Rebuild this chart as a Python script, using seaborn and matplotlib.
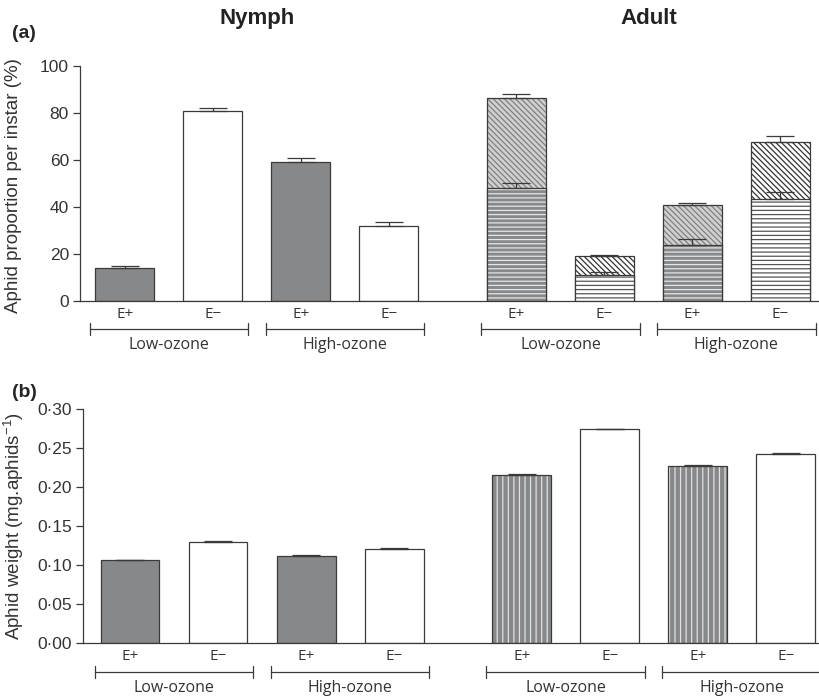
import numpy as np
import matplotlib
matplotlib.use("Agg")
import matplotlib.pyplot as plt
import seaborn as sns
from matplotlib.ticker import FuncFormatter

# ------------------------------------------------------------
# data
# ------------------------------------------------------------
groups = ["Low-ozone", "High-ozone"]
endo_labels = ["E+", "E\u2212", "E+", "E\u2212"]
stages = ["Nymph", "Adult"]

# (a) aphid proportion per instar (%)
nymph_prop = [13.9, 80.9, 59.0, 32.0]
nymph_prop_err = [1.1, 1.4, 1.7, 1.8]
adult_prop_total = [86.4, 19.1, 40.9, 67.8]
adult_prop_total_err = [1.6, 0.6, 0.9, 2.5]
adult_prop_lower = [48.0, 10.9, 23.8, 43.4]
adult_prop_lower_err = [2.1, 1.5, 2.4, 3.1]

# (b) aphid weight (mg per aphid)
nymph_weight = [0.106, 0.130, 0.112, 0.121]
nymph_weight_err = [0.001, 0.001, 0.001, 0.001]
adult_weight = [0.216, 0.274, 0.227, 0.242]
adult_weight_err = [0.001, 0.001, 0.001, 0.002]

# ------------------------------------------------------------
# style
# ------------------------------------------------------------
sns.set_style("ticks")
plt.rcParams["font.family"] = ["Liberation Sans", "DejaVu Sans"]
plt.rcParams["mathtext.fontset"] = "custom"
plt.rcParams["mathtext.rm"] = "Liberation Sans"
plt.rcParams["mathtext.default"] = "regular"
plt.rcParams["hatch.linewidth"] = 0.9

EDGE = "#3a3a3a"
DARK = "#87888a"
LIGHT = "#d0d0d0"
BAR_W = 0.67
XFONT = ["Open Sans", "DejaVu Sans"]

nymph_x = np.arange(4, dtype=float)
adult_x = nymph_x + 4.45
all_x = np.concatenate([nymph_x, adult_x])


def draw_bars(ax, x, y, faces, hatches=None, hcols=None):
    n0 = len(ax.patches)
    sns.barplot(x=x, y=y, native_scale=True, width=BAR_W, color="white",
                errorbar=None, linewidth=0, ax=ax)
    for i, p in enumerate(ax.patches[n0:]):
        p.set_facecolor(faces[i])
        if hatches is not None and hatches[i]:
            p.set_hatch(hatches[i])
            p.set_edgecolor(hcols[i])
        else:
            p.set_edgecolor("none")
        p.set_linewidth(0)
    # outline on top
    sns.barplot(x=x, y=y, native_scale=True, width=BAR_W, fill=False,
                color=EDGE, errorbar=None, linewidth=0.9, ax=ax)


def draw_err(ax, x, y, err):
    ax.errorbar(x, y, yerr=[np.zeros(len(err)), err], fmt="none",
                ecolor=EDGE, elinewidth=0.9, capsize=10, capthick=0.9, zorder=4)


def decorate(ax, tick_y, bracket_y, label_y):
    sns.despine(ax=ax)
    for s in ["left", "bottom"]:
        ax.spines[s].set_color(EDGE)
        ax.spines[s].set_linewidth(0.9)
    ax.set_xticks(all_x)
    ax.set_xticklabels(endo_labels * 2, fontfamily=XFONT, fontsize=11, color="#333333")
    ax.tick_params(axis="x", length=0, pad=tick_y)
    ax.tick_params(axis="y", length=5, width=0.9, color=EDGE, labelsize=12.5,
                   labelcolor="#333333", pad=3)
    trans = ax.get_xaxis_transform()
    for xs in [nymph_x, adult_x]:
        for g, grp in enumerate(groups):
            c = xs[2 * g] + 0.5
            ax.plot([c - 0.9, c + 0.9], [bracket_y, bracket_y], color=EDGE, lw=0.9,
                    transform=trans, clip_on=False)
            for e in [c - 0.9, c + 0.9]:
                ax.plot([e, e], [bracket_y - 0.025, bracket_y + 0.025], color=EDGE,
                        lw=0.9, transform=trans, clip_on=False)
            ax.text(c, label_y, grp, ha="center", va="center", fontfamily=XFONT,
                    fontsize=11.5, color="#333333", transform=trans)


fig = plt.figure(figsize=(8.2, 7), dpi=100)

# ------------------------------------------------------------
# panel (a)
# ------------------------------------------------------------
ax_a = fig.add_axes([80 / 820, 1 - 301 / 700, 740 / 820, 235 / 700])
draw_bars(ax_a, nymph_x, nymph_prop, [DARK, "white", DARK, "white"])
draw_bars(ax_a, adult_x, adult_prop_total, [LIGHT, "white", LIGHT, "white"],
          ["\\\\\\\\\\\\"] * 4, ["#808080", "#333333", "#808080", "#333333"])
draw_bars(ax_a, adult_x, adult_prop_lower, [DARK, "white", DARK, "white"],
          ["----"] * 4, ["#e6e6e6", "#555555", "#e6e6e6", "#555555"])
draw_err(ax_a, nymph_x, nymph_prop, nymph_prop_err)
draw_err(ax_a, adult_x, adult_prop_total, adult_prop_total_err)
draw_err(ax_a, adult_x, adult_prop_lower, adult_prop_lower_err)

ax_a.set_xlim(-0.511, 7.90)
ax_a.set_ylim(0, 100)
ax_a.set_yticks(np.arange(0, 101, 20))
decorate(ax_a, tick_y=4, bracket_y=-0.119, label_y=-0.187)
ax_a.spines["left"].set_bounds(0, 100)
ax_a.set_xlabel("")
ax_a.set_ylabel("Aphid proportion per instar (%)", fontsize=13.5, color="#333333")
ax_a.yaxis.set_label_coords(-0.079, 0.49)

ta = ax_a.get_xaxis_transform()
ax_a.text(nymph_x.mean(), 1.204, stages[0], ha="center", va="center",
          fontsize=16, fontweight="bold", color="#222222", transform=ta)
ax_a.text(adult_x.mean(), 1.204, stages[1], ha="center", va="center",
          fontsize=16, fontweight="bold", color="#222222", transform=ta)

# ------------------------------------------------------------
# panel (b)
# ------------------------------------------------------------
ax_b = fig.add_axes([83 / 820, 1 - 643 / 700, 737 / 820, 234 / 700])
draw_bars(ax_b, nymph_x, nymph_weight, [DARK, "white", DARK, "white"])
draw_bars(ax_b, adult_x, adult_weight, [DARK, "white", DARK, "white"],
          ["|||", None, "|||", None], ["#e0e0e0", None, "#e0e0e0", None])
draw_err(ax_b, nymph_x, nymph_weight, nymph_weight_err)
draw_err(ax_b, adult_x, adult_weight, adult_weight_err)

ax_b.set_xlim(-0.534, 7.84)
ax_b.set_ylim(0, 0.30)
ax_b.set_yticks(np.arange(0, 0.301, 0.05))
ax_b.yaxis.set_major_formatter(FuncFormatter(lambda v, _: f"{v:.2f}".replace(".", "\u00b7")))
decorate(ax_b, tick_y=4, bracket_y=-0.124, label_y=-0.192)
ax_b.spines["left"].set_bounds(0, 0.30)
ax_b.set_xlabel("")
ax_b.set_ylabel("Aphid weight (mg.aphids$^{-1}$)", fontsize=13.5, color="#333333")
ax_b.yaxis.set_label_coords(-0.078, 0.5)

fig.text(0.015, 1 - 33 / 700, "(a)", fontsize=14, fontweight="bold", va="center")
fig.text(0.015, 1 - 392 / 700, "(b)", fontsize=14, fontweight="bold", va="center")

fig.savefig("out.png", dpi=100)
plt.close(fig)
